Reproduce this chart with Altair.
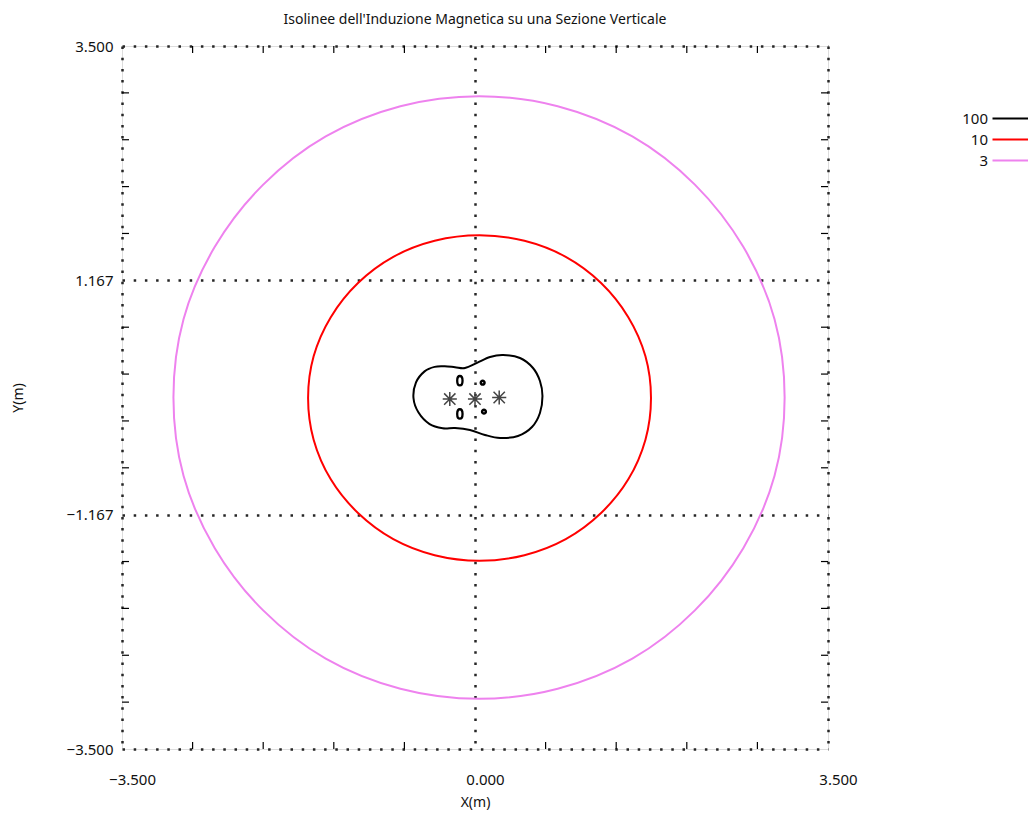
import altair as alt
import pandas as pd

TITLE = "Isolinee dell'Induzione Magnetica su una Sezione Verticale"
FONT = "Noto Sans"

levels = ["100", "10", "3"]
level_colors = ["#000000", "#ff0000", "#ee82ee"]

# isoline 3 (violet)
c3_x = [3.07, 2.97, 2.66, 2.18, 1.56, 0.82, 0.04, -0.74, -1.48, -2.10, -2.58, -2.89,
        -2.99, -2.89, -2.58, -2.10, -1.48, -0.74, 0.04, 0.82, 1.56, 2.18, 2.66, 2.97]
c3_y = [0.00, 0.78, 1.50, 2.12, 2.60, 2.90, 3.00, 2.90, 2.60, 2.12, 1.50, 0.78,
        0.00, -0.78, -1.50, -2.12, -2.60, -2.90, -3.00, -2.90, -2.60, -2.12, -1.50, -0.78]

# isoline 10 (red)
c10_x = [1.745, 1.69, 1.52, 1.25, 0.90, 0.49, 0.045, -0.40, -0.81, -1.16, -1.43, -1.60,
         -1.655, -1.60, -1.43, -1.16, -0.81, -0.40, 0.045, 0.49, 0.90, 1.25, 1.52, 1.69]
c10_y = [-0.005, 0.41, 0.80, 1.14, 1.40, 1.56, 1.615, 1.56, 1.40, 1.14, 0.80, 0.41,
         -0.005, -0.42, -0.815, -1.15, -1.41, -1.57, -1.625, -1.57, -1.41, -1.15, -0.815, -0.42]

# isoline 100 (black)
c100_x = [-0.610, -0.585, -0.500, -0.400, -0.300, -0.198, -0.099, 0.020, 0.149, 0.278, 0.446, 0.575, 0.644,
          0.669, 0.644, 0.565, 0.426, 0.248, 0.099, -0.050, -0.198, -0.320, -0.450, -0.560]
c100_y = [-0.005, 0.150, 0.260, 0.305, 0.310, 0.302, 0.294, 0.344, 0.403, 0.423, 0.393, 0.294, 0.164,
          0.015, -0.154, -0.294, -0.383, -0.403, -0.373, -0.324, -0.304, -0.306, -0.265, -0.150]

# conductors (asterisks) and small closed isolines
star_x = [-0.25, 0.0, 0.24]
star_y = [-0.015, -0.015, 0.0]
ring_x = [-0.15, -0.15]
ring_y = [0.167, -0.164]
dot_x = [0.076, 0.089]
dot_y = [0.147, -0.141]

x_label_values = [-3.5, 0.0, 3.5]
y_label_values = [-3.5, -1.1667, 1.1667, 3.5]
x_minor = [-2.8, -2.1, -1.4, -0.7, 0.7, 1.4, 2.1, 2.8]
y_minor = [3.0333, 2.5667, 2.1, 1.6333, 0.7, 0.2333, -0.2333, -0.7, -1.6333, -2.1, -2.5667, -3.0333]

W, H = 706, 703

rows = []
for lvl, xs_, ys_ in [("3", c3_x, c3_y), ("10", c10_x, c10_y), ("100", c100_x, c100_y)]:
    for i, (a, b) in enumerate(zip(xs_, ys_)):
        rows.append({"level": lvl, "i": i, "x": a, "y": b})
contours = pd.DataFrame(rows)

xs = alt.Scale(domain=[-3.5, 3.5], nice=False, zero=False)
ys = alt.Scale(domain=[-3.5, 3.5], nice=False, zero=False)

grid_common = dict(grid=True, gridDash=[2.5, 8.7], gridColor="#262626", gridWidth=2.5,
                   ticks=False, tickSize=0, domain=False, labelFlush=False, labelOverlap=False,
                   format=".3f", labelFont=FONT, labelFontSize=15, labelColor="#111111",
                   titleFont=FONT, titleFontSize=14, titleFontWeight="normal", titleColor="#111111")

x_axis = alt.Axis(values=x_label_values, title="X(m)", labelOffset=10, labelPadding=30,
                  labelBaseline="middle", titleX=W / 2, titleY=53, titleBaseline="middle",
                  **grid_common)
y_axis = alt.Axis(values=y_label_values, title="Y(m)", labelPadding=9,
                  labelBaseline="middle", titleX=-104, titleY=H / 2, titleAngle=270,
                  titleBaseline="middle", **grid_common)

legend = alt.Legend(orient="none", legendX=851, legendY=65, title=None,
                    symbolType="M3,0L12.5,0", symbolSize=64, symbolStrokeWidth=2,
                    labelAlign="right", labelOffset=0, labelFont=FONT, labelFontSize=15,
                    labelColor="#111111", rowPadding=5, padding=0, offset=0)

lines = alt.Chart(contours).mark_line(interpolate="cardinal-closed", strokeWidth=2).encode(
    x=alt.X("x:Q", scale=xs, axis=x_axis),
    y=alt.Y("y:Q", scale=ys, axis=y_axis),
    color=alt.Color("level:N", scale=alt.Scale(domain=levels, range=level_colors), legend=legend),
    detail="level:N",
    order="i:Q",
)

stars = alt.Chart(pd.DataFrame({"x": star_x, "y": star_y})).mark_point(
    shape="M-1,0L1,0M0,-1L0,1M-0.8,-0.8L0.8,0.8M-0.8,0.8L0.8,-0.8",
    size=200, filled=False, color="#444444", strokeWidth=1.5, opacity=1,
).encode(x="x:Q", y="y:Q")

rings = alt.Chart(pd.DataFrame({"x": ring_x, "y": ring_y})).mark_point(
    shape="M0,-1C0.75,-1 0.75,1 0,1C-0.75,1 -0.75,-1 0,-1Z",
    size=90, filled=False, color="#000000", strokeWidth=2.3, opacity=1,
).encode(x="x:Q", y="y:Q")

dots = alt.Chart(pd.DataFrame({"x": dot_x, "y": dot_y})).mark_point(
    shape="circle", size=14, filled=False, color="#000000", strokeWidth=2.5, opacity=1,
).encode(x="x:Q", y="y:Q")

xt = pd.DataFrame({"x": x_minor})
yt = pd.DataFrame({"y": y_minor})
tick_style = dict(clip=True, color="#000000", size=14, thickness=1.2, opacity=1)
xt_bottom = alt.Chart(xt).mark_tick(orient="vertical", **tick_style).encode(x="x:Q", y=alt.datum(-3.5))
xt_top = alt.Chart(xt).mark_tick(orient="vertical", **tick_style).encode(x="x:Q", y=alt.datum(3.5))
yt_left = alt.Chart(yt).mark_tick(orient="horizontal", **tick_style).encode(y="y:Q", x=alt.datum(-3.5))
yt_right = alt.Chart(yt).mark_tick(orient="horizontal", **tick_style).encode(y="y:Q", x=alt.datum(3.5))

chart = alt.layer(lines, xt_bottom, xt_top, yt_left, yt_right, stars, rings, dots).properties(
    width=W, height=H,
    autosize=alt.AutoSizeParams(type="none"),
    padding={"left": 114, "top": 38, "right": 200, "bottom": 62},
    title=alt.TitleParams(TITLE, font=FONT, fontSize=14, fontWeight="normal", color="#111111",
                          anchor="middle", baseline="middle", offset=5),
).configure_view(stroke="#000000", strokeWidth=1.5).configure(background="white")

chart.save("out.html", embed_options={"renderer": "svg", "actions": False})
